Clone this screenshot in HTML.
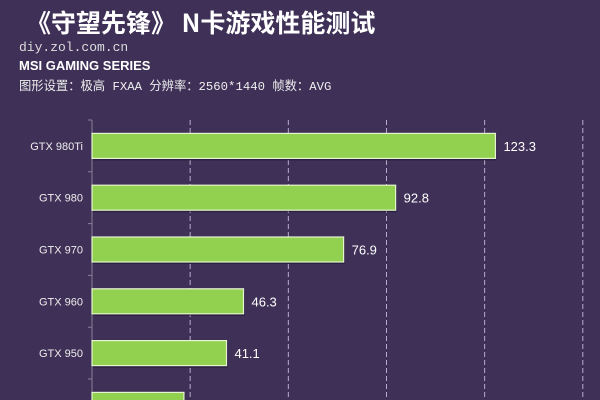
<!DOCTYPE html>
<html><head><meta charset="utf-8"><style>
body{margin:0;}
#c{position:relative;width:600px;height:400px;background:#3e3056;overflow:hidden;font-family:"Liberation Sans","Noto Sans CJK SC",sans-serif;color:#fff;}
.t{position:absolute;white-space:nowrap;}
</style></head><body>
<div id="c">
<div class="t" style="left:26px;top:5px;font-size:25px;font-weight:bold;font-family:'Noto Sans CJK SC',sans-serif;line-height:34px;">《守望先锋》 N卡游戏性能测试</div>
<div class="t" style="left:19px;top:40px;font-size:13px;font-family:'Liberation Mono',monospace;color:#ddd;">diy.zol.com.cn</div>
<div class="t" style="left:19px;top:58px;font-size:13px;font-weight:bold;">MSI GAMING SERIES</div>
<div class="t" style="left:19px;top:76px;font-size:12.3px;font-family:'Liberation Mono','Noto Sans CJK SC',monospace;color:#eee;">图形设置：极高  FXAA  分辨率：2560*1440  帧数：AVG</div>
<svg id="s" width="600" height="400" style="position:absolute;left:0;top:0"></svg>
</div>
<script>
const categories=["GTX 980Ti","GTX 980","GTX 970","GTX 960","GTX 950","GTX 750Ti"];
const values=[123.3,92.8,76.9,46.3,41.1,28.1];
const ticks=[30,60,90,120,150];
const NS="http://www.w3.org/2000/svg";
const s=document.getElementById('s');
const x0=92,k=3.272,y0=120,step=51.8,bh=25;
const xs=v=>x0+v*k;
function el(t,a){const e=document.createElementNS(NS,t);for(const n in a)e.setAttribute(n,a[n]);s.appendChild(e);return e;}
ticks.forEach(t=>{
 const g=el('line',{x1:xs(t),x2:xs(t),y1:y0,y2:400,stroke:'#b8aecb','stroke-width':1,'stroke-dasharray':'5,3'});
 
 
});
const ax=el('line',{x1:x0,x2:x0,y1:y0,y2:400,stroke:'#8a809c','stroke-width':1});


categories.forEach((c,i)=>{
 const yt=y0+i*step;
 const tk=el('line',{x1:x0-4,x2:x0,y1:yt,y2:yt,stroke:'#8a809c'});
 
 
 const yc=yt+step/2;
 const sh=el('rect',{x:x0+1,y:yc-bh/2+2,width:xs(values[i])-x0,height:bh,fill:'#1e1530',opacity:0.6});
 
 
 const b=el('rect',{x:x0,y:yc-bh/2,width:xs(values[i])-x0,height:bh,fill:'#92d050',stroke:'#e6f5d0','stroke-width':1.2});
 
 
 const l=el('text',{x:x0-9,y:yc+4,'text-anchor':'end',fill:'#eee','font-size':11,'font-family':'Liberation Sans Narrow, Liberation Sans, sans-serif'});
 l.textContent=c;
 
 
 const v=el('text',{x:xs(values[i])+8,y:yc+5,fill:'#fff','font-size':13,'font-family':'Liberation Sans, sans-serif'});
 v.textContent=values[i].toFixed(1);
 
 
});
</script>
</body></html>
